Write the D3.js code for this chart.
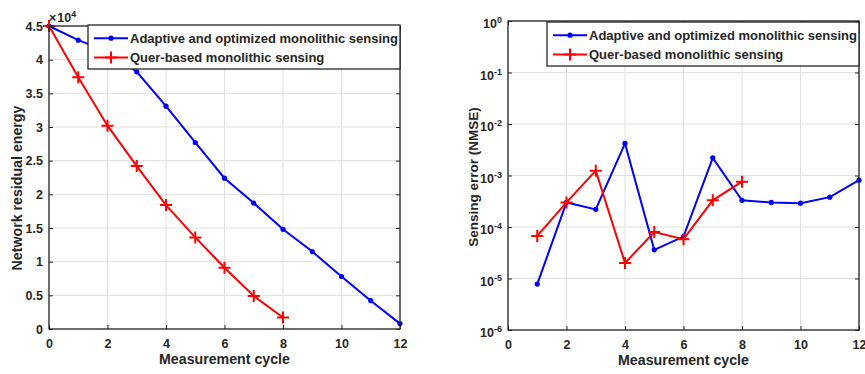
<!DOCTYPE html>
<html><head><meta charset="utf-8">
<script src="https://cdn.jsdelivr.net/npm/d3@7"></script>
<style>body{margin:0;background:#fff}svg{display:block}text{font-family:"Liberation Sans",Arial,sans-serif;font-weight:bold;fill:#262626}</style>
</head><body>
<svg id="c" width="865" height="374"></svg>
<script>
const cycles = [0,1,2,3,4,5,6,7,8,9,10,11,12];
const energyAdaptive = [4.5,4.29,4.12,3.82,3.31,2.77,2.24,1.87,1.48,1.15,0.78,0.42,0.08]; // x1e4
const energyQuer = [4.5,3.74,3.02,2.42,1.84,1.36,0.91,0.49,0.17];
const errCycles = [1,2,3,4,5,6,7,8,9,10,11,12];
const errAdaptive = [7.8e-6,3.0e-4,2.2e-4,4.2e-3,3.6e-5,6.5e-5,2.2e-3,3.3e-4,3.0e-4,2.9e-4,3.8e-4,8.1e-4];
const errQuer = [6.7e-5,3.0e-4,1.24e-3,2.0e-5,8.0e-5,5.8e-5,3.3e-4,7.6e-4];
const xTicks = [0,2,4,6,8,10,12];
const energyTicks = [0,0.5,1,1.5,2,2.5,3,3.5,4,4.5];
const errExp = [-6,-5,-4,-3,-2,-1,0];
const seriesNames = ["Adaptive and optimized monolithic sensing","Quer-based monolithic sensing"];
const xTitle = "Measurement cycle";
const yTitles = ["Network residual energy","Sensing error (NMSE)"];

const svg = d3.select("#c");
const AX = "#262626", GRID = "#dfdfdf", BLUE = "#0000ff", RED = "#ff0000";

function panel(o){
  const g = svg.append("g");
  const {x,y,L,R,T,B} = o;
  // grid
  g.selectAll(null).data(xTicks).join("line").attr("x1",d=>x(d)).attr("x2",d=>x(d)).attr("y1",T).attr("y2",B).attr("stroke",GRID).attr("stroke-width",1);
  g.selectAll(null).data(o.yt).join("line").attr("x1",L).attr("x2",R).attr("y1",d=>y(d)).attr("y2",d=>y(d)).attr("stroke",GRID).attr("stroke-width",1);
  // series
  const line = d3.line().x(d=>x(d[0])).y(d=>y(d[1]));
  const s1 = o.xs1.map((c,i)=>[c,o.v1[i]]);
  const s2 = o.xs2.map((c,i)=>[c,o.v2[i]]);
  g.append("path").attr("d",line(s1)).attr("fill","none").attr("stroke",BLUE).attr("stroke-width",2);
  g.selectAll(null).data(s1).join("circle").attr("cx",d=>x(d[0])).attr("cy",d=>y(d[1])).attr("r",2.6).attr("fill",BLUE);
  g.append("path").attr("d",line(s2)).attr("fill","none").attr("stroke",RED).attr("stroke-width",2);
  g.selectAll(null).data(s2).join("path").attr("d",d=>`M${x(d[0])-6},${y(d[1])}h12M${x(d[0])},${y(d[1])-6}v12`).attr("stroke",RED).attr("stroke-width",2);
  // axes box
  const ax = g.append("g");
  ax.append("rect").attr("x",L).attr("y",T).attr("width",R-L).attr("height",B-T).attr("fill","none").attr("stroke",AX).attr("stroke-width",1.3);
  ax.append("g").attr("transform",`translate(0,${B})`).call(d3.axisBottom(x).tickValues(xTicks).tickSizeInner(-4).tickSizeOuter(0).tickPadding(10).tickFormat(d3.format("d")))
    .call(s=>{s.select(".domain").remove();s.selectAll("line").attr("stroke",AX);s.selectAll("text").attr("font-size",12.5).attr("fill",AX).attr("font-family","Liberation Sans, Arial").attr("font-weight","bold");});
  ax.append("g").attr("transform",`translate(0,${T})`).call(d3.axisTop(x).tickValues(xTicks).tickSizeInner(-4).tickSizeOuter(0).tickFormat(""))
    .call(s=>{s.select(".domain").remove();s.selectAll("line").attr("stroke",AX);});
  const ya = ax.append("g").attr("transform",`translate(${L},0)`).call(d3.axisLeft(y).tickValues(o.yt).tickSizeInner(-4).tickSizeOuter(0).tickPadding(6).tickFormat(o.yfmt))
    .call(s=>{s.select(".domain").remove();s.selectAll("line").attr("stroke",AX);s.selectAll("text").attr("font-size",12.5).attr("fill",AX).attr("font-family","Liberation Sans, Arial").attr("font-weight","bold");});
  if(o.log){
    ya.selectAll(".tick text").text(null).each(function(d){
      const t=d3.select(this);
      t.append("tspan").text("10");
      t.append("tspan").attr("dy","-0.55em").attr("font-size",9).text(Math.round(Math.log10(d)));
    }).attr("dy","0.55em");
  }
  ax.append("g").attr("transform",`translate(${R},0)`).call(d3.axisRight(y).tickValues(o.yt).tickSizeInner(-4).tickSizeOuter(0).tickFormat(""))
    .call(s=>{s.select(".domain").remove();s.selectAll("line").attr("stroke",AX);});
  // titles
  g.append("text").attr("x",(L+R)/2).attr("y",B+35).attr("text-anchor","middle").attr("font-size",14.2).text(xTitle);
  g.append("text").attr("transform",`translate(${o.ytx},${o.ytc}) rotate(-90)`).attr("text-anchor","middle").attr("font-size",o.ytfs).text(o.ytitle);
  // legend
  const lg = g.append("g");
  lg.append("rect").attr("x",o.lx).attr("y",o.ly).attr("width",R-o.lx).attr("height",o.lh).attr("fill","#fff").attr("stroke",AX).attr("stroke-width",1.3);
  const r1 = o.ly+o.lh*0.3, r2 = o.ly+o.lh*0.74;
  const sx0 = o.lx+6, sx1 = o.lx+40;
  lg.append("line").attr("x1",sx0).attr("x2",sx1).attr("y1",r1).attr("y2",r1).attr("stroke",BLUE).attr("stroke-width",2);
  lg.append("circle").attr("cx",(sx0+sx1)/2).attr("cy",r1).attr("r",2.6).attr("fill",BLUE);
  lg.append("line").attr("x1",sx0).attr("x2",sx1).attr("y1",r2).attr("y2",r2).attr("stroke",RED).attr("stroke-width",2);
  lg.append("path").attr("d",`M${(sx0+sx1)/2-6},${r2}h12M${(sx0+sx1)/2},${r2-6}v12`).attr("stroke",RED).attr("stroke-width",2);
  lg.append("text").attr("x",sx1+2).attr("y",r1).attr("dy","0.36em").attr("font-size",13).text(seriesNames[0]);
  lg.append("text").attr("x",sx1+2).attr("y",r2).attr("dy","0.36em").attr("font-size",13).text(seriesNames[1]);
  return g;
}

// left
{
  const L=49,R=400,T=26,B=329;
  const x=d3.scaleLinear().domain([0,12]).range([L,R]);
  const y=d3.scaleLinear().domain([0,4.5]).range([B,T]);
  panel({x,y,L,R,T,B,yt:energyTicks,yfmt:d=>String(d),xs1:cycles,v1:energyAdaptive,xs2:cycles.slice(0,energyQuer.length),v2:energyQuer,
    ytx:22,ytc:188,ytfs:14.2,ytitle:yTitles[0],lx:88,ly:25,lh:44});
  const t=svg.append("text").attr("x",49).attr("y",22).attr("font-size",12.5).attr("font-weight","normal");
  t.append("tspan").text("\u00d7");
  t.append("tspan").attr("dx",1).text("10");
  t.append("tspan").attr("dy",-5).attr("font-size",9).text("4");
}
// right
{
  const L=508,R=859,T=21,B=330;
  const x=d3.scaleLinear().domain([0,12]).range([L,R]);
  const y=d3.scaleLog().domain([1e-6,1]).range([B,T]);
  panel({x,y,L,R,T,B,yt:errExp.map(e=>Math.pow(10,e)),yfmt:d=>String(d),log:true,xs1:errCycles,v1:errAdaptive,xs2:errCycles.slice(0,errQuer.length),v2:errQuer,
    ytx:478,ytc:177,ytfs:13.5,ytitle:yTitles[1],lx:547,ly:22,lh:44});
}
</script>
</body></html>
